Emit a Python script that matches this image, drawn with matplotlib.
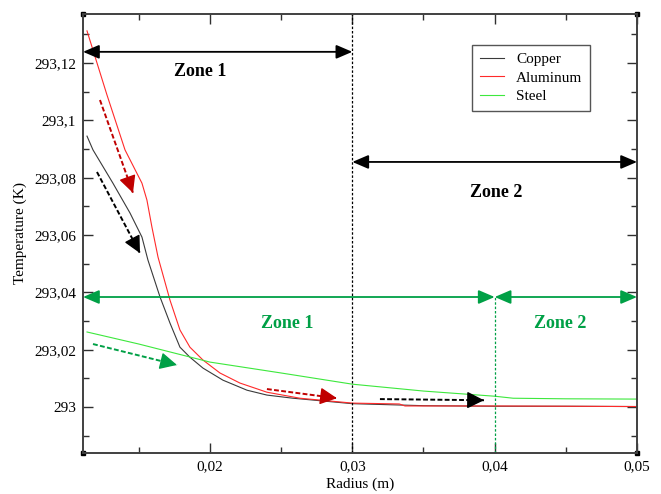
import matplotlib
matplotlib.use("Agg")
import matplotlib.pyplot as plt
from matplotlib.ticker import MultipleLocator, FuncFormatter

# --- data -----------------------------------------------------------
copper_r = [0.01136, 0.01178, 0.01318, 0.01438, 0.01522, 0.01564, 0.01649,
            0.01719, 0.01789, 0.01859, 0.01951, 0.02091, 0.0226, 0.0240,
            0.02583, 0.03, 0.035, 0.04, 0.045, 0.05]
copper_T = [293.0945, 293.0897, 293.0781, 293.0677, 293.0593, 293.0513,
            293.0384, 293.0293, 293.0209, 293.0174, 293.0136, 293.0094,
            293.0059, 293.0042, 293.0031, 293.0012, 293.0005, 293.0003,
            293.0003, 293.0002]

alu_r = [0.01136, 0.01276, 0.01403, 0.01522, 0.01557, 0.01592, 0.01635,
         0.01719, 0.01789, 0.01859, 0.01951, 0.0207, 0.0221, 0.0240,
         0.02632, 0.03, 0.0333, 0.0337, 0.04, 0.045, 0.05]
alu_T = [293.1312, 293.1089, 293.0897, 293.0781, 293.0722, 293.0628,
         293.0523, 293.0373, 293.0269, 293.0209, 293.0164, 293.0119,
         293.0084, 293.0052, 293.0031, 293.0014, 293.0011, 293.0004,
         293.0004, 293.0003, 293.0002]

steel_r = [0.01136, 0.015, 0.02, 0.025, 0.03, 0.035, 0.04, 0.0413, 0.045, 0.05]
steel_T = [293.0262, 293.022, 293.0157, 293.0119, 293.008, 293.0056,
           293.0038, 293.0031, 293.0029, 293.0028]

x_lim = (0.01108, 0.05)
y_lim = (292.984, 293.1371)

# zone boundaries and annotation levels
zone_split_cu_al = 0.03
zone_split_steel = 0.04
zone_arrow_T = [293.1239, 293.0855, 293.0384]
zone_text = [("Zone 1", 0.0193, 293.1169, "black"),
             ("Zone 2", 0.0401, 293.0750, "black"),
             ("Zone 1", 0.0254, 293.0293, "#00a046"),
             ("Zone 2", 0.0446, 293.0293, "#00a046")]

# dashed trend arrows: (start, tip, colour)
trend_arrows = [((0.01227, 293.1071), (0.01459, 293.0747), "#c00000"),
                ((0.01206, 293.0820), (0.01508, 293.0537), "black"),
                ((0.01178, 293.0220), (0.01768, 293.0147), "#00a046"),
                ((0.02400, 293.0063), (0.02892, 293.0031), "#c00000"),
                ((0.03194, 293.0028), (0.03925, 293.0024), "black")]

plt.rcParams["font.family"] = ["Liberation Serif", "DejaVu Serif"]

fig = plt.figure(figsize=(6.61, 4.94), dpi=100)
ax = fig.add_axes([0.1256, 0.083, 0.8381, 0.8887])

ax.plot(copper_r, copper_T, color="#3a3a3a", lw=0.8, label="Copper")
ax.plot(alu_r, alu_T, color="#ff2a2a", lw=0.8, label="Aluminum")
ax.plot(steel_r, steel_T, color="#3de83d", lw=0.8, label="Steel")

ax.set_xlim(*x_lim)
ax.set_ylim(*y_lim)

# vertical zone separators
ax.axvline(zone_split_cu_al, color="black", lw=0.9, ls=(0, (2, 1.5)))
ax.plot([zone_split_steel, zone_split_steel], [y_lim[0], zone_arrow_T[2]],
        color="#00a046", lw=0.9, ls=(0, (2, 1.5)))

# double arrows marking the zones
dbl = "<|-|>,head_length=0.7,head_width=0.3"
spans = [(x_lim[0], zone_split_cu_al, zone_arrow_T[0], "black"),
         (zone_split_cu_al, x_lim[1], zone_arrow_T[1], "black"),
         (x_lim[0], zone_split_steel, zone_arrow_T[2], "#00a046"),
         (zone_split_steel, x_lim[1], zone_arrow_T[2], "#00a046")]
for xa, xb, yv, c in spans:
    ax.annotate("", xy=(xa, yv), xytext=(xb, yv),
                arrowprops=dict(arrowstyle=dbl, color=c, lw=1.3,
                                mutation_scale=14, shrinkA=0, shrinkB=0))

for txt, xr, yt, c in zone_text:
    ax.text(xr, yt, txt, color=c, fontsize=13, fontweight="bold",
            ha="center", va="center")

# dashed shaft, solid filled head
for (x0, y0), (x1, y1), c in trend_arrows:
    ax.plot([x0, x1], [y0, y1], color=c, lw=1.4, ls=(0, (2.5, 1.2)))
    xh = x0 + 0.85 * (x1 - x0)
    yh = y0 + 0.85 * (y1 - y0)
    ax.annotate("", xy=(x1, y1), xytext=(xh, yh),
                arrowprops=dict(arrowstyle="-|>,head_length=0.7,head_width=0.35",
                                color=c, lw=1.0, mutation_scale=15,
                                shrinkA=0, shrinkB=0))

# ticks
ax.xaxis.set_major_locator(MultipleLocator(0.01))
ax.xaxis.set_minor_locator(MultipleLocator(0.005))
ax.yaxis.set_major_locator(MultipleLocator(0.02))
ax.yaxis.set_minor_locator(MultipleLocator(0.01))


def _comma(v, _pos):
    s = f"{round(v, 3):.3f}".rstrip("0").rstrip(".")
    return s.replace(".", ",")


ax.xaxis.set_major_formatter(FuncFormatter(_comma))
ax.yaxis.set_major_formatter(FuncFormatter(_comma))
ax.tick_params(which="both", direction="in", top=True, right=True,
               labelsize=11, colors="#303030", labelcolor="black")
ax.tick_params(which="major", length=7, width=1.0, pad=5)
ax.tick_params(which="minor", length=4, width=1.0)
for sp in ax.spines.values():
    sp.set_color("#404040")
    sp.set_linewidth(1.4)

ax.set_xlabel("Radius (m)", fontsize=11, labelpad=3)
ax.set_ylabel("Temperature (K)", fontsize=11, labelpad=5)

leg = ax.legend(loc="upper left", bbox_to_anchor=(0.702, 0.929),
                borderaxespad=0, fontsize=11, handlelength=1.6,
                labelspacing=0.3, fancybox=False, framealpha=1,
                borderpad=0.5)
leg.get_frame().set_edgecolor("#555555")
leg.get_frame().set_linewidth(1.0)

# little corner squares of the original plotting tool
ax.plot([0, 1, 0, 1], [0, 0, 1, 1], ls="none", marker="s", ms=3.5,
        color="black", transform=ax.transAxes, clip_on=False)

fig.savefig("out.png", dpi=100)
